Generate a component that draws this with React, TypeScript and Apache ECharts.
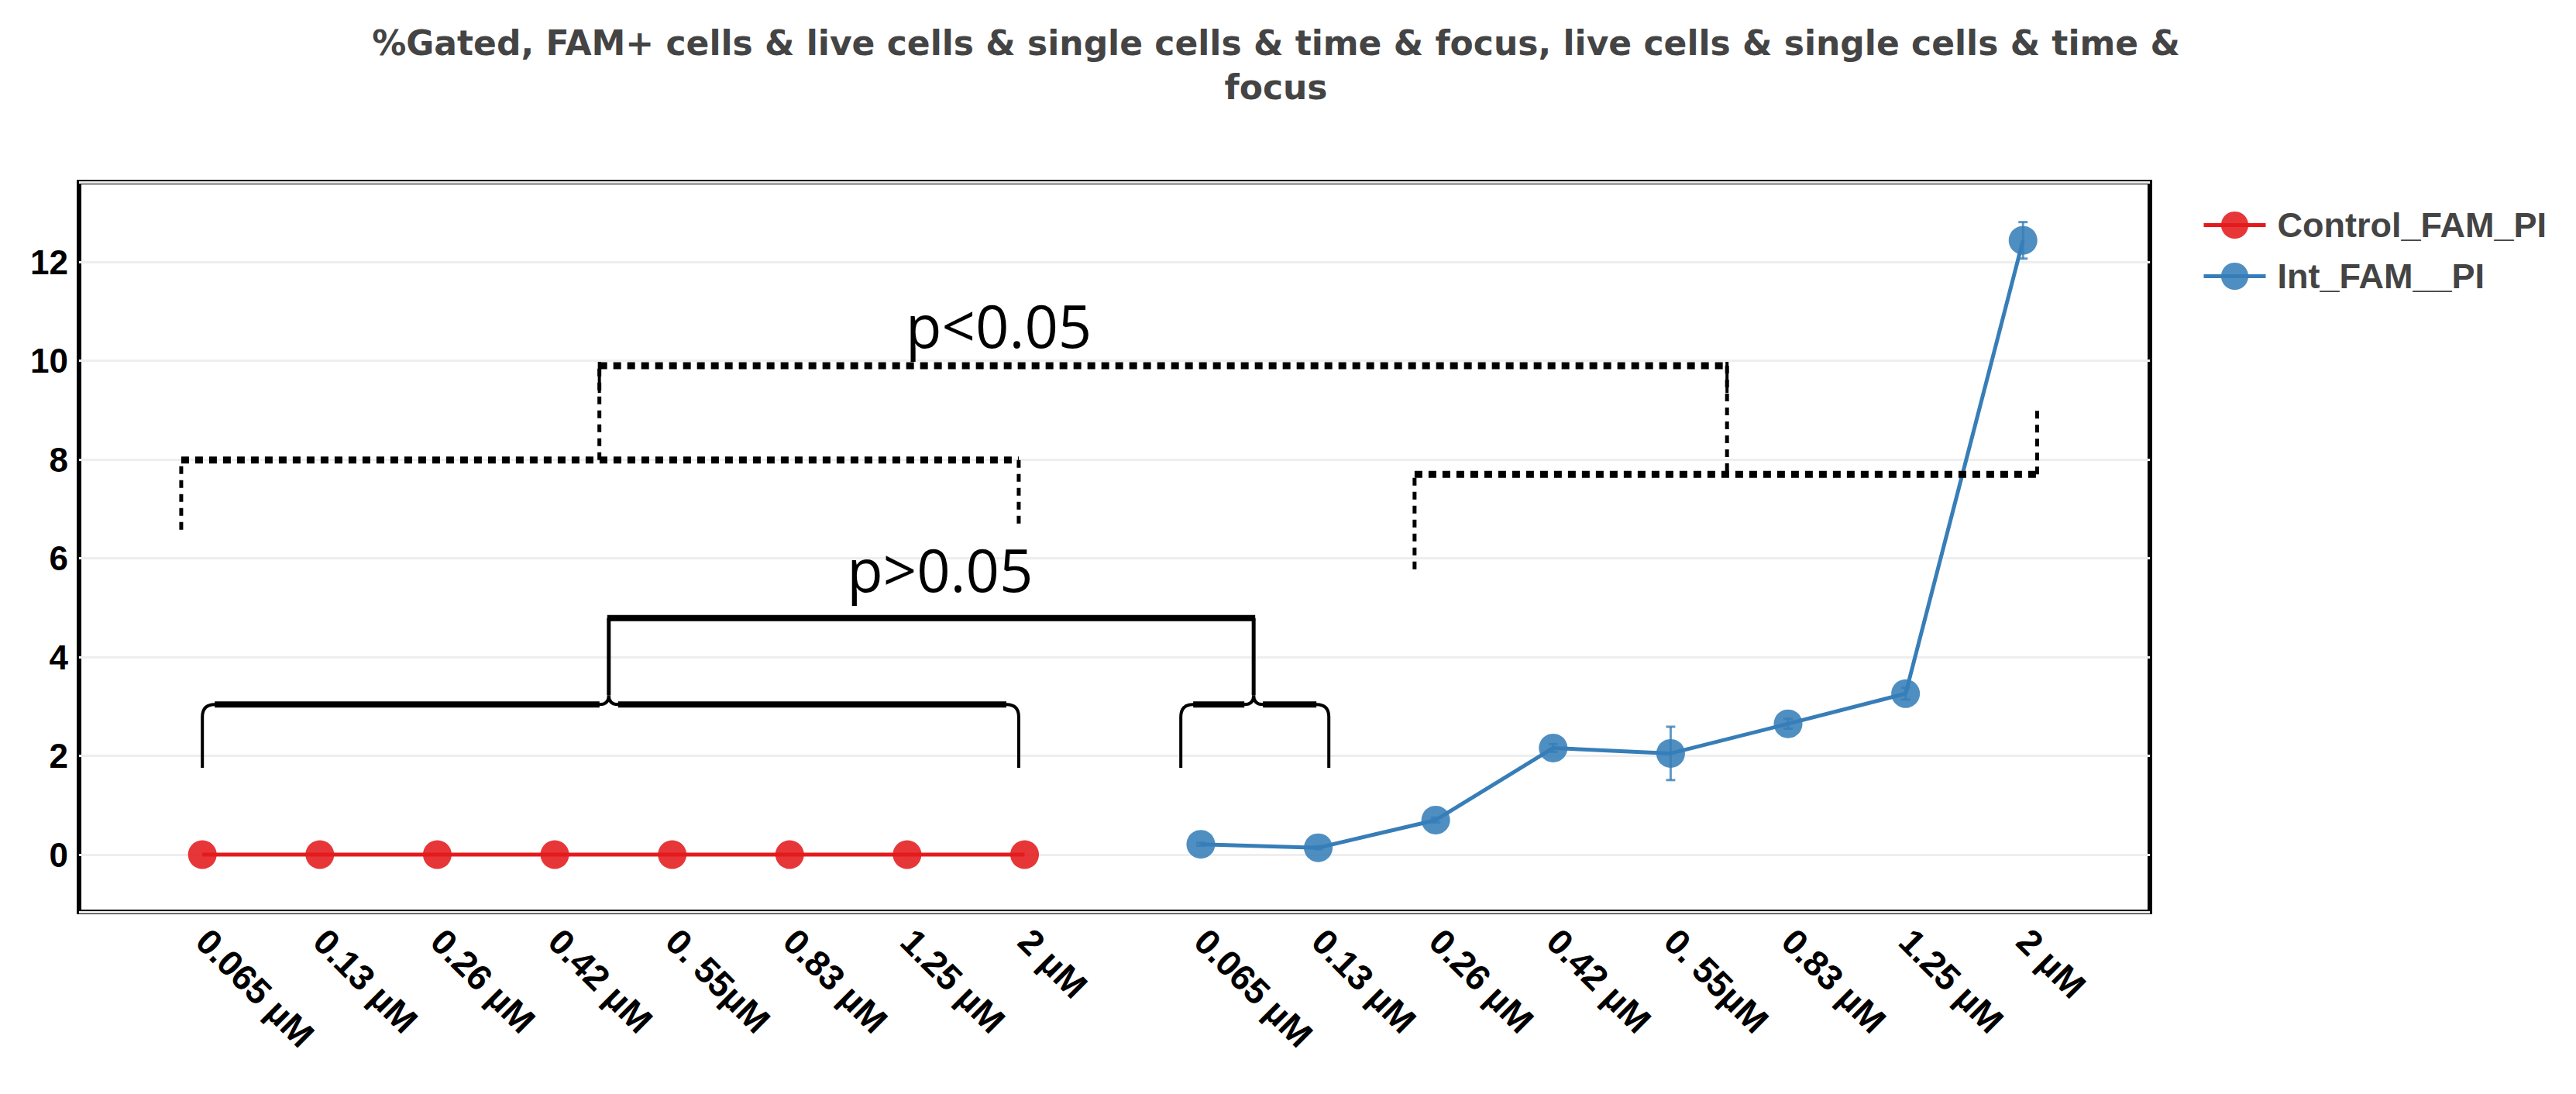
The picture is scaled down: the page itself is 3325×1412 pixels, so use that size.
import React, { useEffect, useRef } from "react";
import * as echarts from "echarts";

// concentrations shown under both groups
const concentrations = ["0.065 µM", "0.13 µM", "0.26 µM", "0.42 µM", "0. 55µM", "0.83 µM", "1.25 µM", "2 µM"];
const controlX = [0, 1, 2, 3, 4, 5, 6, 7];
const intX = [8.5, 9.5, 10.5, 11.5, 12.5, 13.5, 14.5, 15.5];
const controlValues = [0, 0, 0, 0, 0, 0, 0, 0];
const intValues = [0.21, 0.14, 0.7, 2.16, 2.05, 2.65, 3.26, 12.44];
const intErrors = [0.03, 0.03, 0.05, 0.08, 0.54, 0.1, 0.12, 0.37];
const tickPositions = [...controlX, ...intX];
const tickLabels = [...concentrations, ...concentrations];

// significance annotations, in data units
// solid braces: [xLeft, xRight, xCusp, yLeg, yBar]
const solidBraces = [
  [0, 6.95, 3.46, 1.76, 3.04],
  [8.33, 9.59, 8.95, 1.76, 3.04],
];
// bracket joining the two brace cusps: [xA, xB, yBar, yTop]
const solidLink = [3.46, 8.95, 3.04, 4.79];
const dottedPaths = [
  [[-0.18, 6.58], [-0.18, 7.99], [6.95, 7.99], [6.95, 6.68]],
  [[3.38, 7.99], [3.38, 9.9], [12.98, 9.9], [12.98, 7.72]],
  [[10.32, 5.78], [10.32, 7.7], [15.62, 7.7], [15.62, 9.0]],
];
const dottedTips = [
  [[3.38, 9.98], [3.38, 9.35]],
  [[12.98, 9.98], [12.98, 9.35]],
];
const pLabels = [
  { text: "p<0.05", x: 6.78, y: 10.73 },
  { text: "p>0.05", x: 6.28, y: 5.79 },
];

const RED = "#e41a1c";
const BLUE = "#377eb8";
const AXIS_FONT = "Arial, 'Liberation Sans', sans-serif";

const App = () => {
  const chartRef = useRef<HTMLDivElement>(null);

  useEffect(() => {
    if (!chartRef.current) return;
    document.body.style.margin = "0";

    const chart = echarts.init(chartRef.current, undefined, { renderer: "svg" });

    const labelFor = (v: number) => {
      const i = tickPositions.findIndex((p) => Math.abs(p - v) < 1e-6);
      return i >= 0 ? tickLabels[i] : "";
    };

    const renderAnnotations = (_params: any, api: any) => {
      const X = (x: number) => api.coord([x, 0])[0];
      const Y = (y: number) => api.coord([0, y])[1];
      const children: any[] = [];
      const seg = (x1: number, y1: number, x2: number, y2: number, dashed: boolean) => {
        const horiz = Math.abs(y2 - y1) < Math.abs(x2 - x1);
        children.push({
          type: "line",
          shape: { x1, y1, x2, y2 },
          style: {
            stroke: "#000",
            lineWidth: horiz ? (dashed ? 9 : 8) : 5,
            lineDash: dashed ? [10, 8] : null,
          },
        });
      };

      const r = 16;
      const rc = 12;
      solidBraces.forEach(([a, b, cx, yLeg, yBar]) => {
        const xl = X(a), xr = X(b), xc = X(cx), yl = Y(yLeg), yb = Y(yBar);
        const d =
          `M${xl},${yl} L${xl},${yb + r} Q${xl},${yb} ${xl + r},${yb} L${xc - rc},${yb} Q${xc},${yb} ${xc},${yb - rc} ` +
          `M${xc},${yb - rc} Q${xc},${yb} ${xc + rc},${yb} L${xr - r},${yb} Q${xr},${yb} ${xr},${yb + r} L${xr},${yl}`;
        children.push({
          type: "path",
          shape: { pathData: d },
          style: { stroke: "#000", fill: "none", lineWidth: 4 },
        });
        seg(xl + r, yb, xc - rc, yb, false);
        seg(xc + rc, yb, xr - r, yb, false);
      });

      {
        const [a, b, yBar, yTop] = solidLink;
        const xa = X(a), xb = X(b), yb = Y(yBar) - rc, yt = Y(yTop);
        seg(xa, yb, xa, yt, false);
        seg(xa - 2, yt, xb + 2, yt, false);
        seg(xb, yt, xb, yb, false);
      }

      dottedPaths.forEach((pts) => {
        for (let i = 1; i < pts.length; i++) {
          seg(X(pts[i - 1][0]), Y(pts[i - 1][1]), X(pts[i][0]), Y(pts[i][1]), true);
        }
      });
      dottedTips.forEach(([p, q]) => {
        children.push({
          type: "line",
          shape: { x1: X(p[0]), y1: Y(p[1]), x2: X(q[0]), y2: Y(q[1]) },
          style: { stroke: "#000", lineWidth: 4 },
        });
      });

      pLabels.forEach((t) => {
        children.push({
          type: "text",
          x: X(t.x),
          y: Y(t.y),
          style: {
            text: t.text,
            fontSize: 76,
            fontFamily: "'Open Sans', sans-serif",
            fill: "#000",
            align: "center",
            verticalAlign: "middle",
          },
        });
      });

      return { type: "group", children };
    };

    const renderErrors = (_params: any, api: any) => {
      const x = api.value(0);
      const y = api.value(1);
      const e = api.value(2);
      const top = api.coord([x, y + e]);
      const bot = api.coord([x, y - e]);
      const w = 6;
      const style = { stroke: BLUE, lineWidth: 3, opacity: 0.8 };
      return {
        type: "group",
        children: [
          { type: "line", shape: { x1: top[0], y1: top[1], x2: bot[0], y2: bot[1] }, style },
          { type: "line", shape: { x1: top[0] - w, y1: top[1], x2: top[0] + w, y2: top[1] }, style },
          { type: "line", shape: { x1: bot[0] - w, y1: bot[1], x2: bot[0] + w, y2: bot[1] }, style },
        ],
      };
    };

    const option: echarts.EChartsOption = {
      animation: false,
      backgroundColor: "#fff",
      title: {
        text: "%Gated, FAM+ cells & live cells & single cells & time & focus, live cells & single cells & time &\nfocus",
        left: 1642,
        top: 22,
        textAlign: "center",
        textStyle: {
          fontFamily: "'DejaVu Sans', Verdana, sans-serif",
          fontWeight: "bold",
          fontSize: 44,
          lineHeight: 57,
          color: "#444",
        },
      },
      legend: {
        data: ["Control_FAM_PI", "Int_FAM__PI"],
        orient: "vertical",
        left: 2837,
        top: 263,
        itemWidth: 80,
        itemHeight: 44,
        itemGap: 21,
        lineStyle: { width: 5 },
        textStyle: {
          fontFamily: AXIS_FONT,
          fontWeight: "bold",
          fontSize: 45,
          color: "#444",
          padding: [0, 0, 0, 10],
        },
      } as any,
      grid: {
        left: 102,
        right: 550,
        top: 235,
        bottom: 235,
        show: true,
        borderColor: "#000",
        borderWidth: 6,
        backgroundColor: "transparent",
      },
      xAxis: {
        type: "value",
        min: -1.05,
        max: 16.58,
        axisLine: { show: false },
        axisTick: { show: false },
        splitLine: { show: false },
        axisLabel: {
          customValues: tickPositions,
          formatter: (v: number) => labelFor(v),
          rotate: -45,
          margin: 30,
          fontFamily: AXIS_FONT,
          fontWeight: "bold",
          fontSize: 46,
          color: "#000",
        },
      } as any,
      yAxis: {
        type: "value",
        min: -1.16,
        max: 13.62,
        splitNumber: 7,
        minInterval: 2,
        maxInterval: 2,
        axisLine: { show: false },
        axisTick: { show: false },
        splitLine: { lineStyle: { color: "#eeeeee", width: 3 } },
        axisLabel: {
          showMinLabel: false,
          showMaxLabel: false,
          margin: 14,
          fontFamily: AXIS_FONT,
          fontWeight: "bold",
          fontSize: 44,
          color: "#000",
        },
      },
      series: [
        {
          type: "custom",
          name: "Int_FAM__PI error",
          data: intX.map((x, i) => [x, intValues[i], intErrors[i]]),
          encode: { x: 0, y: 1 },
          renderItem: renderErrors as any,
          silent: true,
          z: 1,
        },
        {
          name: "Control_FAM_PI",
          type: "line",
          data: controlX.map((x, i) => [x, controlValues[i]]),
          symbol: "circle",
          symbolSize: 37,
          lineStyle: { color: RED, width: 5 },
          itemStyle: { color: RED, opacity: 0.88 },
          z: 3,
        },
        {
          name: "Int_FAM__PI",
          type: "line",
          data: intX.map((x, i) => [x, intValues[i]]),
          symbol: "circle",
          symbolSize: 37,
          lineStyle: { color: BLUE, width: 5 },
          itemStyle: { color: BLUE, opacity: 0.88 },
          z: 3,
        },
        {
          type: "custom",
          name: "annotations",
          data: [[0, 0]],
          encode: { x: 0, y: 1 },
          renderItem: renderAnnotations as any,
          silent: true,
          clip: false,
          z: 5,
        },
      ],
    };

    chart.setOption(option);

    const resizeObserver = new ResizeObserver(() => chart.resize());
    resizeObserver.observe(chartRef.current);

    return () => {
      resizeObserver.disconnect();
      chart.dispose();
    };
  }, []);

  return <div ref={chartRef} style={{ width: "100vw", height: "100vh" }} />;
};

export default App;
